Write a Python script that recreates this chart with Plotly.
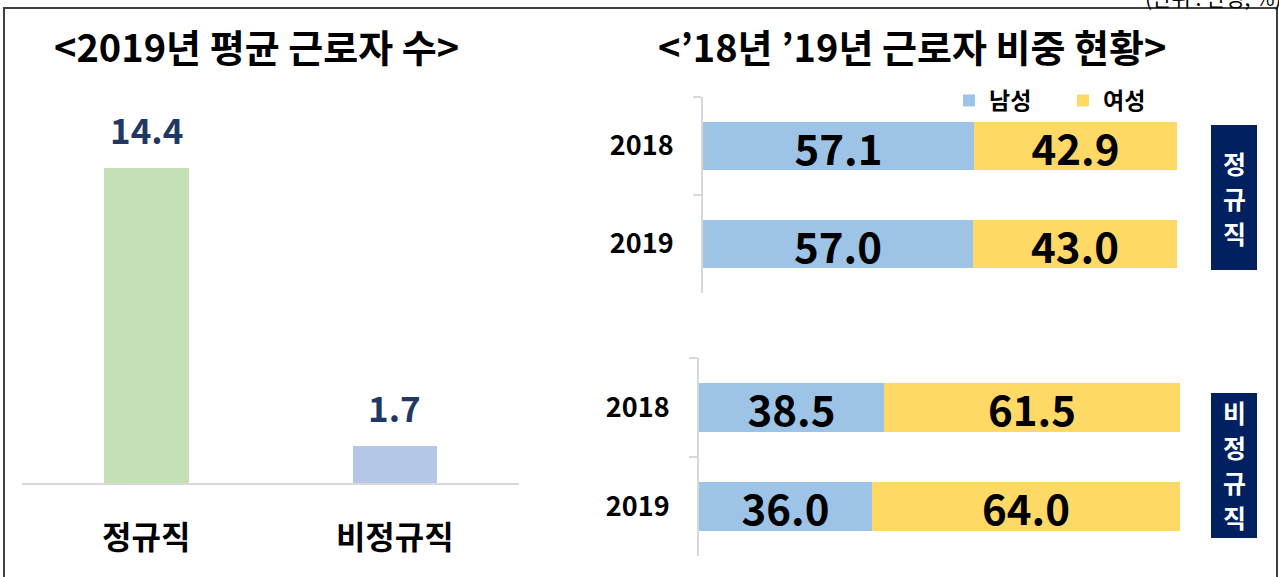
import plotly.graph_objects as go

# ---- data ----
left_categories = ["정규직", "비정규직"]
left_values = [14.4, 1.7]
left_colors = ["#C5E0B4", "#B4C7E7"]

years = ["2018", "2019"]
regular_male = [57.1, 57.0]
regular_female = [42.9, 43.0]
nonregular_male = [38.5, 36.0]
nonregular_female = [61.5, 64.0]

series_names = ["남성", "여성"]
series_colors = ["#9DC3E6", "#FFD966"]

side_labels = ["정규직", "비정규직"]

W, H = 1279, 577
FONT = "Noto Sans CJK KR"

def px_x(p):
    return p / W

def px_y(p):
    return 1 - p / H

fig = go.Figure()

# ---- left bar chart ----
fig.add_trace(go.Bar(
    x=left_categories, y=left_values, marker=dict(color=left_colors, line=dict(width=0)),
    width=0.34, showlegend=False, xaxis="x", yaxis="y", hoverinfo="skip",
))
for c, v in zip(left_categories, left_values):
    fig.add_annotation(x=c, y=v, xref="x", yref="y", text=f"{v:.1f}", showarrow=False,
                       xanchor="center", yanchor="bottom", yshift=12,
                       font=dict(family=FONT, size=35, color="#1F3864", weight="bold"))

bar_text_font = dict(family=FONT, size=42, color="#000000", weight="bold")

# ---- right: regular ----
for name, vals, col in [(series_names[0], regular_male, series_colors[0]),
                        (series_names[1], regular_female, series_colors[1])]:
    fig.add_trace(go.Bar(
        y=years, x=vals, orientation="h", name=name, marker=dict(color=col, line=dict(width=0)),
        width=0.49, showlegend=True, xaxis="x2", yaxis="y2", texttemplate="%{x:.1f}",
        textposition="inside", insidetextanchor="middle", constraintext="none",
        hoverinfo="skip", textfont=bar_text_font,
    ))
# ---- right: non-regular ----
for name, vals, col in [(series_names[0], nonregular_male, series_colors[0]),
                        (series_names[1], nonregular_female, series_colors[1])]:
    fig.add_trace(go.Bar(
        y=years, x=vals, orientation="h", name=name, marker=dict(color=col, line=dict(width=0)),
        width=0.49, showlegend=False, xaxis="x3", yaxis="y3", texttemplate="%{x:.1f}",
        textposition="inside", insidetextanchor="middle", constraintext="none",
        hoverinfo="skip", textfont=bar_text_font,
    ))

ycat_axis = dict(
    type="category", categoryorder="array", categoryarray=years, range=[1.5, -0.5],
    showline=True, linecolor="#D9D9D9", linewidth=2, ticks="outside", ticklen=8,
    tickcolor="#D9D9D9", tickwidth=2, tickson="boundaries", showgrid=False, zeroline=False,
    ticklabelstandoff=22, tickfont=dict(family=FONT, size=27, color="#000000", weight="bold"),
    fixedrange=True,
)

fig.update_layout(
    width=W, height=H, margin=dict(l=0, r=0, t=0, b=0),
    paper_bgcolor="white", plot_bgcolor="rgba(0,0,0,0)",
    barmode="stack", font=dict(family=FONT),
    xaxis=dict(domain=[px_x(22), px_x(519)], range=[-0.5, 1.5], showline=True,
               linecolor="#D9D9D9", linewidth=2, ticks="", showgrid=False, zeroline=False,
               ticklabelstandoff=26,
               tickfont=dict(family=FONT, size=32, color="#000000", weight="bold")),
    yaxis=dict(domain=[px_y(483), px_y(133)], range=[0, 16], visible=False),
    xaxis2=dict(domain=[px_x(703), px_x(1177)], range=[0, 100], visible=False, anchor="y2"),
    yaxis2=dict(domain=[px_y(293), px_y(97)], anchor="x2", **ycat_axis),
    xaxis3=dict(domain=[px_x(699), px_x(1180)], range=[0, 100], visible=False, anchor="y3"),
    yaxis3=dict(domain=[px_y(556), px_y(358)], anchor="x3", **ycat_axis),
    bargap=0,
    legend=dict(orientation="h", x=px_x(949), y=px_y(79), xanchor="left", yanchor="top",
                entrywidth=69, entrywidthmode="pixels", traceorder="normal",
                font=dict(family=FONT, size=23, color="#000000", weight="bold"),
                bgcolor="rgba(0,0,0,0)", itemsizing="constant"),
    showlegend=True,
)

# frame
fig.add_shape(type="rect", xref="paper", yref="paper", x0=px_x(4), x1=px_x(1277),
              y0=px_y(600), y1=px_y(8), line=dict(color="#404040", width=2), layer="below")

# titles
fig.add_annotation(x=px_x(256), y=px_y(46), xref="paper", yref="paper", showarrow=False,
                   xanchor="center", yanchor="middle",
                   text="&lt;2019년 평균 근로자 수&gt;",
                   font=dict(family=FONT, size=38, color="#000000", weight="bold"))
fig.add_annotation(x=px_x(912), y=px_y(46), xref="paper", yref="paper", showarrow=False,
                   xanchor="center", yanchor="middle",
                   text="&lt;’18년 ’19년 근로자 비중 현황&gt;",
                   font=dict(family=FONT, size=38, color="#000000", weight="bold"))
fig.add_annotation(x=px_x(1284), y=px_y(-3), xref="paper", yref="paper", showarrow=False,
                   xanchor="right", yanchor="middle", text="(단위 : 만명, %)",
                   font=dict(family=FONT, size=21, color="#000000"))

# side labels (vertical text boxes)
for (y0, y1, first_center, label) in [(125, 270, 163, side_labels[0]),
                                      (393, 538, 412, side_labels[1])]:
    fig.add_shape(type="rect", xref="paper", yref="paper", x0=px_x(1211), x1=px_x(1257),
                  y0=px_y(y1), y1=px_y(y0), fillcolor="#002060", line=dict(width=0))
    for i, ch in enumerate(label):
        fig.add_annotation(x=px_x(1234), y=px_y(first_center + 35 * i), xref="paper",
                           yref="paper", showarrow=False, text=ch, xanchor="center",
                           yanchor="middle",
                           font=dict(family=FONT, size=25, color="#FFFFFF", weight="bold"))

fig.write_html("out.html", config={"displayModeBar": False},
               post_script="document.body.style.margin='0px';")
